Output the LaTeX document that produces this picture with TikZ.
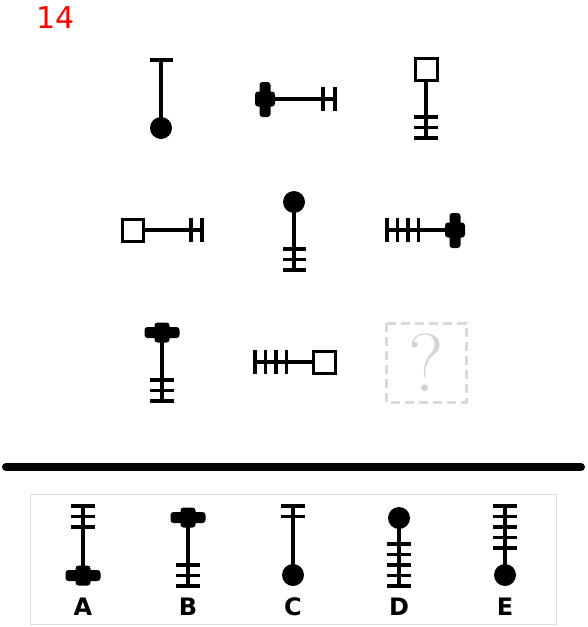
\documentclass[tikz,border=0pt]{standalone}
\usepackage{fontspec}
\newfontfamily\vfont{DejaVu Sans}
\begin{document}
\begin{tikzpicture}[x=1pt,y=-1pt,
  ln/.style={line width=3.4pt},
  sq/.style={line width=3pt, fill=white},
  dot/.style={fill=black},
  crs/.style={fill=black, rounded corners=3pt},
  lbl/.style={font=\vfont\bfseries\fontsize{24}{24}\selectfont, inner sep=0pt}]
\useasboundingbox[fill=white] (0,0) rectangle (587,627);
% title
\node[text=red, font=\vfont\fontsize{30}{30}\selectfont, anchor=base west, inner sep=0pt] (title) at (36,28) {14};
% ---- Row 1 ----
% fig1
\draw[ln] (161,128) -- (161,60);
\draw[ln] (150,60) -- (173,60);
\fill[dot] (161,128) circle (11);
% fig2
\draw[ln] (265,99) -- (335,99);
\draw[ln] (323,87) -- (323,111);
\draw[ln] (335,87) -- (335,111);
\fill[crs] (259.5,82) rectangle (270.5,117);
\fill[crs] (255,91.5) rectangle (275,106.5);
% fig3
\draw[ln] (426,80) -- (426,138);
\draw[ln] (414,117) -- (438,117);
\draw[ln] (414,127.5) -- (438,127.5);
\draw[ln] (414,138) -- (438,138);
\draw[sq] (415,58) rectangle (437,80);
% ---- Row 2 ----
% fig4
\draw[ln] (143,230) -- (202,230);
\draw[ln] (191,218) -- (191,242);
\draw[ln] (202,218) -- (202,242);
\draw[sq] (122,219) rectangle (143,241);
% fig5
\draw[ln] (294,202) -- (294,270);
\draw[ln] (283,249) -- (306,249);
\draw[ln] (283,259.5) -- (306,259.5);
\draw[ln] (283,270) -- (306,270);
\fill[dot] (294,202) circle (11);
% fig6
\draw[ln] (387,230) -- (455,230);
\draw[ln] (387,218) -- (387,242);
\draw[ln] (397.5,218) -- (397.5,242);
\draw[ln] (408,218) -- (408,242);
\draw[ln] (418.5,218) -- (418.5,242);
\fill[crs] (449.5,213) rectangle (460.5,248);
\fill[crs] (445,222.5) rectangle (465,237.5);
% ---- Row 3 ----
% fig7
\draw[ln] (162,332) -- (162,401);
\draw[ln] (150,380) -- (174,380);
\draw[ln] (150,390.5) -- (174,390.5);
\draw[ln] (150,401) -- (174,401);
\fill[crs] (144.5,327) rectangle (179.5,338);
\fill[crs] (154.5,322.5) rectangle (169.5,342.5);
% fig8
\draw[ln] (255,362) -- (313,362);
\draw[ln] (255,350) -- (255,374);
\draw[ln] (265.5,350) -- (265.5,374);
\draw[ln] (276,350) -- (276,374);
\draw[ln] (286.5,350) -- (286.5,374);
\draw[sq] (313,351) rectangle (335,373);
% question box
\draw[line width=3pt, color=black!15, dash pattern=on 9pt off 5pt] (386,323) rectangle (466,402);
\node[text=black!17, font=\fontsize{82}{82}\selectfont, inner sep=0pt] (qm) at (426,363) {?};
% separator
\draw[line width=8pt, line cap=round] (6,467) -- (581,467);
% answer box
\draw[line width=1pt, color=black!13] (30,494) rectangle (556,624);
% A
\draw[ln] (83,506) -- (83,575);
\draw[ln] (71,506) -- (95,506);
\draw[ln] (71,516.5) -- (95,516.5);
\draw[ln] (71,527) -- (95,527);
\fill[crs] (65.5,570) rectangle (100.5,581);
\fill[crs] (75.5,565.5) rectangle (90.5,585.5);
\node[lbl] (la) at (83,607) {A};
% B
\draw[ln] (188,517) -- (188,586);
\draw[ln] (176,565) -- (200,565);
\draw[ln] (176,575.5) -- (200,575.5);
\draw[ln] (176,586) -- (200,586);
\fill[crs] (170.5,512) rectangle (205.5,523);
\fill[crs] (180.5,507.5) rectangle (195.5,527.5);
\node[lbl] (lb) at (188,607) {B};
% C
\draw[ln] (293,506) -- (293,575);
\draw[ln] (281,506) -- (305,506);
\draw[ln] (281,516.5) -- (305,516.5);
\fill[dot] (293,575) circle (11);
\node[lbl] (lc) at (293,607) {C};
% D
\draw[ln] (399,518) -- (399,586);
\draw[ln] (387,544) -- (411,544);
\draw[ln] (387,554.5) -- (411,554.5);
\draw[ln] (387,565) -- (411,565);
\draw[ln] (387,575.5) -- (411,575.5);
\draw[ln] (387,586) -- (411,586);
\fill[dot] (399,518) circle (11);
\node[lbl] (ld) at (399,607) {D};
% E
\draw[ln] (505,506) -- (505,575);
\draw[ln] (493,506) -- (517,506);
\draw[ln] (493,516.5) -- (517,516.5);
\draw[ln] (493,527) -- (517,527);
\draw[ln] (493,537.5) -- (517,537.5);
\draw[ln] (493,548) -- (517,548);
\fill[dot] (505,575) circle (11);
\node[lbl] (le) at (505,607) {E};
\end{tikzpicture}
\end{document}
